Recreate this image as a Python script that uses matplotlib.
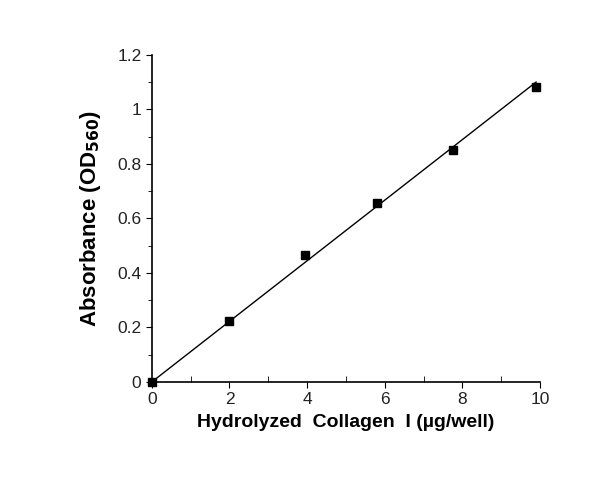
import matplotlib
matplotlib.use("Agg")
import matplotlib.pyplot as plt
from matplotlib.ticker import MultipleLocator

plt.rcParams['font.family'] = ['Liberation Sans', 'DejaVu Sans']

x = [0, 2, 3.95, 5.8, 7.75, 9.9]
y = [0.0, 0.225, 0.465, 0.655, 0.85, 1.08]
fit_x = [0, 9.9]
fit_y = [0, 1.1]

fig = plt.figure(figsize=(6, 4.98), dpi=100)
ax = fig.add_axes([0.253, 0.233, 0.647, 0.657])
ax.plot(fit_x, fit_y, color='black', lw=1)
ax.plot(x, y, 's', color='black', ms=6, clip_on=False)
ax.set_xlim(0, 10)
ax.set_ylim(0, 1.2)
for s in ['top', 'right']:
    ax.spines[s].set_visible(False)
ax.spines['left'].set_linewidth(1.2)
ax.spines['bottom'].set_linewidth(1.2)
ax.xaxis.set_major_locator(MultipleLocator(2))
ax.xaxis.set_minor_locator(MultipleLocator(1))
ax.yaxis.set_minor_locator(MultipleLocator(0.1))
ax.set_yticks([0, 0.2, 0.4, 0.6, 0.8, 1.0, 1.2])
ax.set_yticklabels(['0', '0.2', '0.4', '0.6', '0.8', '1', '1.2'])
ax.tick_params(axis='both', which='major', labelsize=12.5, length=4, color='black', labelcolor='#222222')
ax.tick_params(axis='x', which='minor', direction='in', length=4)
ax.tick_params(axis='y', which='minor', direction='out', length=3)
ax.set_xlabel('Hydrolyzed  Collagen  I (µg/well)', fontsize=14, fontweight='bold', labelpad=5)
ax.set_ylabel('Absorbance (OD$_{\\mathbf{560}}$)', fontsize=16, fontweight='bold', labelpad=10)
fig.savefig('out.png', dpi=100)
